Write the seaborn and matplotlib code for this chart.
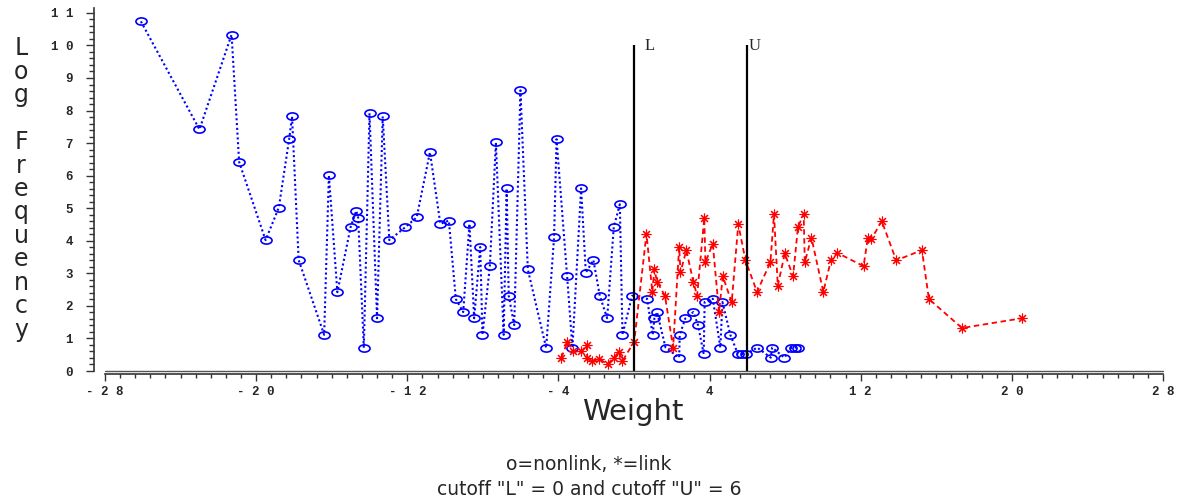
import matplotlib
matplotlib.use('Agg')
import matplotlib.pyplot as plt
import matplotlib.path as mpath
from matplotlib.transforms import Affine2D
from matplotlib.ticker import FixedLocator, MultipleLocator
import seaborn as sns

# nonlink pairs (plotted as o)
nonlink_weight = [-26.1, -23.0, -21.3, -20.9, -19.5, -18.8, -18.25, -18.1, -17.75, -16.4,
                  -16.15, -15.7, -15.0, -14.7, -14.6, -14.3, -14.0, -13.6, -13.3, -12.95,
                  -12.1, -11.5, -10.8, -10.25, -9.8, -9.43, -9.04, -8.71, -8.46, -8.14,
                  -8.02, -7.63, -7.31, -6.9, -6.74, -6.63, -6.34, -6.01, -5.62, -4.65,
                  -4.23, -4.1, -3.54, -3.26, -2.8, -2.55, -2.15, -1.81, -1.42, -1.07,
                  -0.75, -0.61, -0.1, 0.69, 0.99, 1.08, 1.22, 1.67, 2.39, 2.42,
                  2.72, 3.14, 3.39, 3.69, 3.74, 4.17, 4.57, 4.68, 5.1, 5.5,
                  5.7, 5.93, 6.52, 7.24, 7.31, 7.96, 8.33, 8.54, 8.7]
nonlink_logfreq = [10.74, 7.42, 10.33, 6.42, 4.02, 5.02, 7.13, 7.82, 3.41, 1.11,
                   6.02, 2.42, 4.42, 4.92, 4.71, 0.71, 7.92, 1.62, 7.82, 4.02,
                   4.42, 4.72, 6.72, 4.52, 4.62, 2.21, 1.81, 4.52, 1.62, 3.81,
                   1.11, 3.22, 7.02, 1.11, 5.61, 2.31, 1.41, 8.62, 3.12, 0.71,
                   4.11, 7.12, 2.91, 0.71, 5.61, 3.02, 3.41, 2.31, 1.62, 4.42,
                   5.12, 1.11, 2.31, 2.22, 1.11, 1.62, 1.81, 0.72, 0.41, 1.11,
                   1.62, 1.81, 1.41, 0.52, 2.12, 2.22, 0.72, 2.12, 1.11, 0.52,
                   0.52, 0.52, 0.72, 0.41, 0.72, 0.41, 0.72, 0.72, 0.72]

# link pairs (plotted as *)
link_weight = [-3.84, -3.52, -3.22, -2.78, -2.5, -2.48, -2.2, -1.84, -1.4, -1.07,
               -0.79, -0.61, 0.01, 0.66, 0.97, 1.08, 1.22, 1.64, 2.07, 2.39,
               2.46, 2.77, 3.14, 3.34, 3.72, 3.78, 4.17, 4.5, 4.7, 5.17,
               5.52, 5.9, 6.51, 7.22, 7.41, 7.61, 7.98, 8.42, 8.68, 8.98,
               9.04, 9.39, 10.02, 10.43, 10.76, 12.15, 12.38, 12.56, 13.11, 13.88,
               15.24, 15.61, 17.36, 20.53]
link_logfreq = [0.41, 0.90, 0.60, 0.60, 0.80, 0.41, 0.31, 0.37, 0.21, 0.41,
                0.59, 0.31, 0.90, 4.22, 2.43, 3.12, 2.74, 2.31, 0.72, 3.81,
                3.03, 3.71, 2.74, 2.31, 4.71, 3.34, 3.91, 1.81, 2.91, 2.11,
                4.51, 3.40, 2.43, 3.34, 4.82, 2.62, 3.61, 2.91, 4.43, 4.81,
                3.34, 4.10, 2.43, 3.42, 3.63, 3.22, 4.10, 4.04, 4.61, 3.40,
                3.71, 2.21, 1.32, 1.62]

cutoffs = [0, 6]
cutoff_names = ['L', 'U']
xticks = [-28, -20, -12, -4, 4, 12, 20, 28]
yticks = list(range(12))

sns.set_style('white')
plt.rcParams['font.family'] = ['DejaVu Sans']

fig = plt.figure(figsize=(11.78, 4.98), dpi=100)
ax = fig.add_axes([105 / 1178, 127 / 498, 1058 / 1178, 363 / 498])

# SAS style flat "o"
ellipse = mpath.Path.unit_circle().transformed(Affine2D().scale(1.55, 1.0))

sns.lineplot(x=nonlink_weight, y=nonlink_logfreq, estimator=None, sort=False, ax=ax,
             color='blue', lw=1.5, linestyle=(0, (1, 1.3)),
             marker=ellipse, markersize=8, markerfacecolor='none',
             markeredgecolor='blue', markeredgewidth=1.2)
sns.lineplot(x=link_weight, y=link_logfreq, estimator=None, sort=False, ax=ax,
             color='red', lw=1.3, linestyle=(0, (3, 2)),
             marker=(8, 2, 0), markersize=7, markerfacecolor='red',
             markeredgecolor='red', markeredgewidth=0.8)

# cutoff lines
ax.vlines(cutoffs, 0, 10, color='black', lw=1.6)
ax.text(cutoffs[0] + 0.58, 9.85, cutoff_names[0], family='Liberation Serif', fontsize=12)
ax.text(cutoffs[1] + 0.05, 9.85, cutoff_names[1], family='Liberation Serif', fontsize=12)

ax.axhline(0, color='#555555', lw=1.0, clip_on=False)

ax.set_xlim(-28, 28)
ax.set_ylim(0, 11.15)
ax.spines[['top', 'right']].set_visible(False)
ax.spines['left'].set_position(('outward', 8))
ax.spines['bottom'].set_position(('outward', 2))
for s in ['left', 'bottom']:
    ax.spines[s].set_color('#333333')
    ax.spines[s].set_linewidth(1.2)

ax.xaxis.set_major_locator(FixedLocator(xticks))
ax.xaxis.set_minor_locator(MultipleLocator(0.8))
ax.set_xticklabels([' '.join(str(t)) for t in xticks], family='Liberation Mono',
                   fontsize=9, fontweight='bold')
ax.yaxis.set_major_locator(FixedLocator(yticks))
ax.yaxis.set_minor_locator(MultipleLocator(0.2))
ax.set_yticklabels([' '.join(str(t)) for t in yticks], family='Liberation Mono',
                   fontsize=9, fontweight='bold')
ax.tick_params(bottom=True, left=True, which='both')
ax.tick_params(axis='x', which='major', direction='out', length=5, width=1, pad=4, color='#333333')
ax.tick_params(axis='x', which='minor', direction='out', length=3, width=1, color='#333333')
ax.tick_params(axis='y', which='major', direction='out', length=6, width=1, pad=9, color='#333333')
ax.tick_params(axis='y', which='minor', direction='out', length=3.5, width=1, color='#333333')
ax.set_xlabel('')
ax.set_ylabel('')

# axis titles and notes
fig.text(633 / 1178, 1 - 412 / 498, 'Weight', ha='center', va='center', fontsize=21)
fig.text(21 / 1178, 1 - 189 / 498, '\n'.join('Log Frequency'), ha='center', va='center',
         fontsize=17, linespacing=0.97, multialignment='center')
fig.text(0.5, 1 - 465 / 498, 'o=nonlink, *=link', ha='center', va='center', fontsize=13.5)
fig.text(0.5, 1 - 489 / 498, 'cutoff "L" = 0 and cutoff "U" = 6', ha='center', va='center',
         fontsize=13.5)

fig.savefig('out.png', dpi=100)
